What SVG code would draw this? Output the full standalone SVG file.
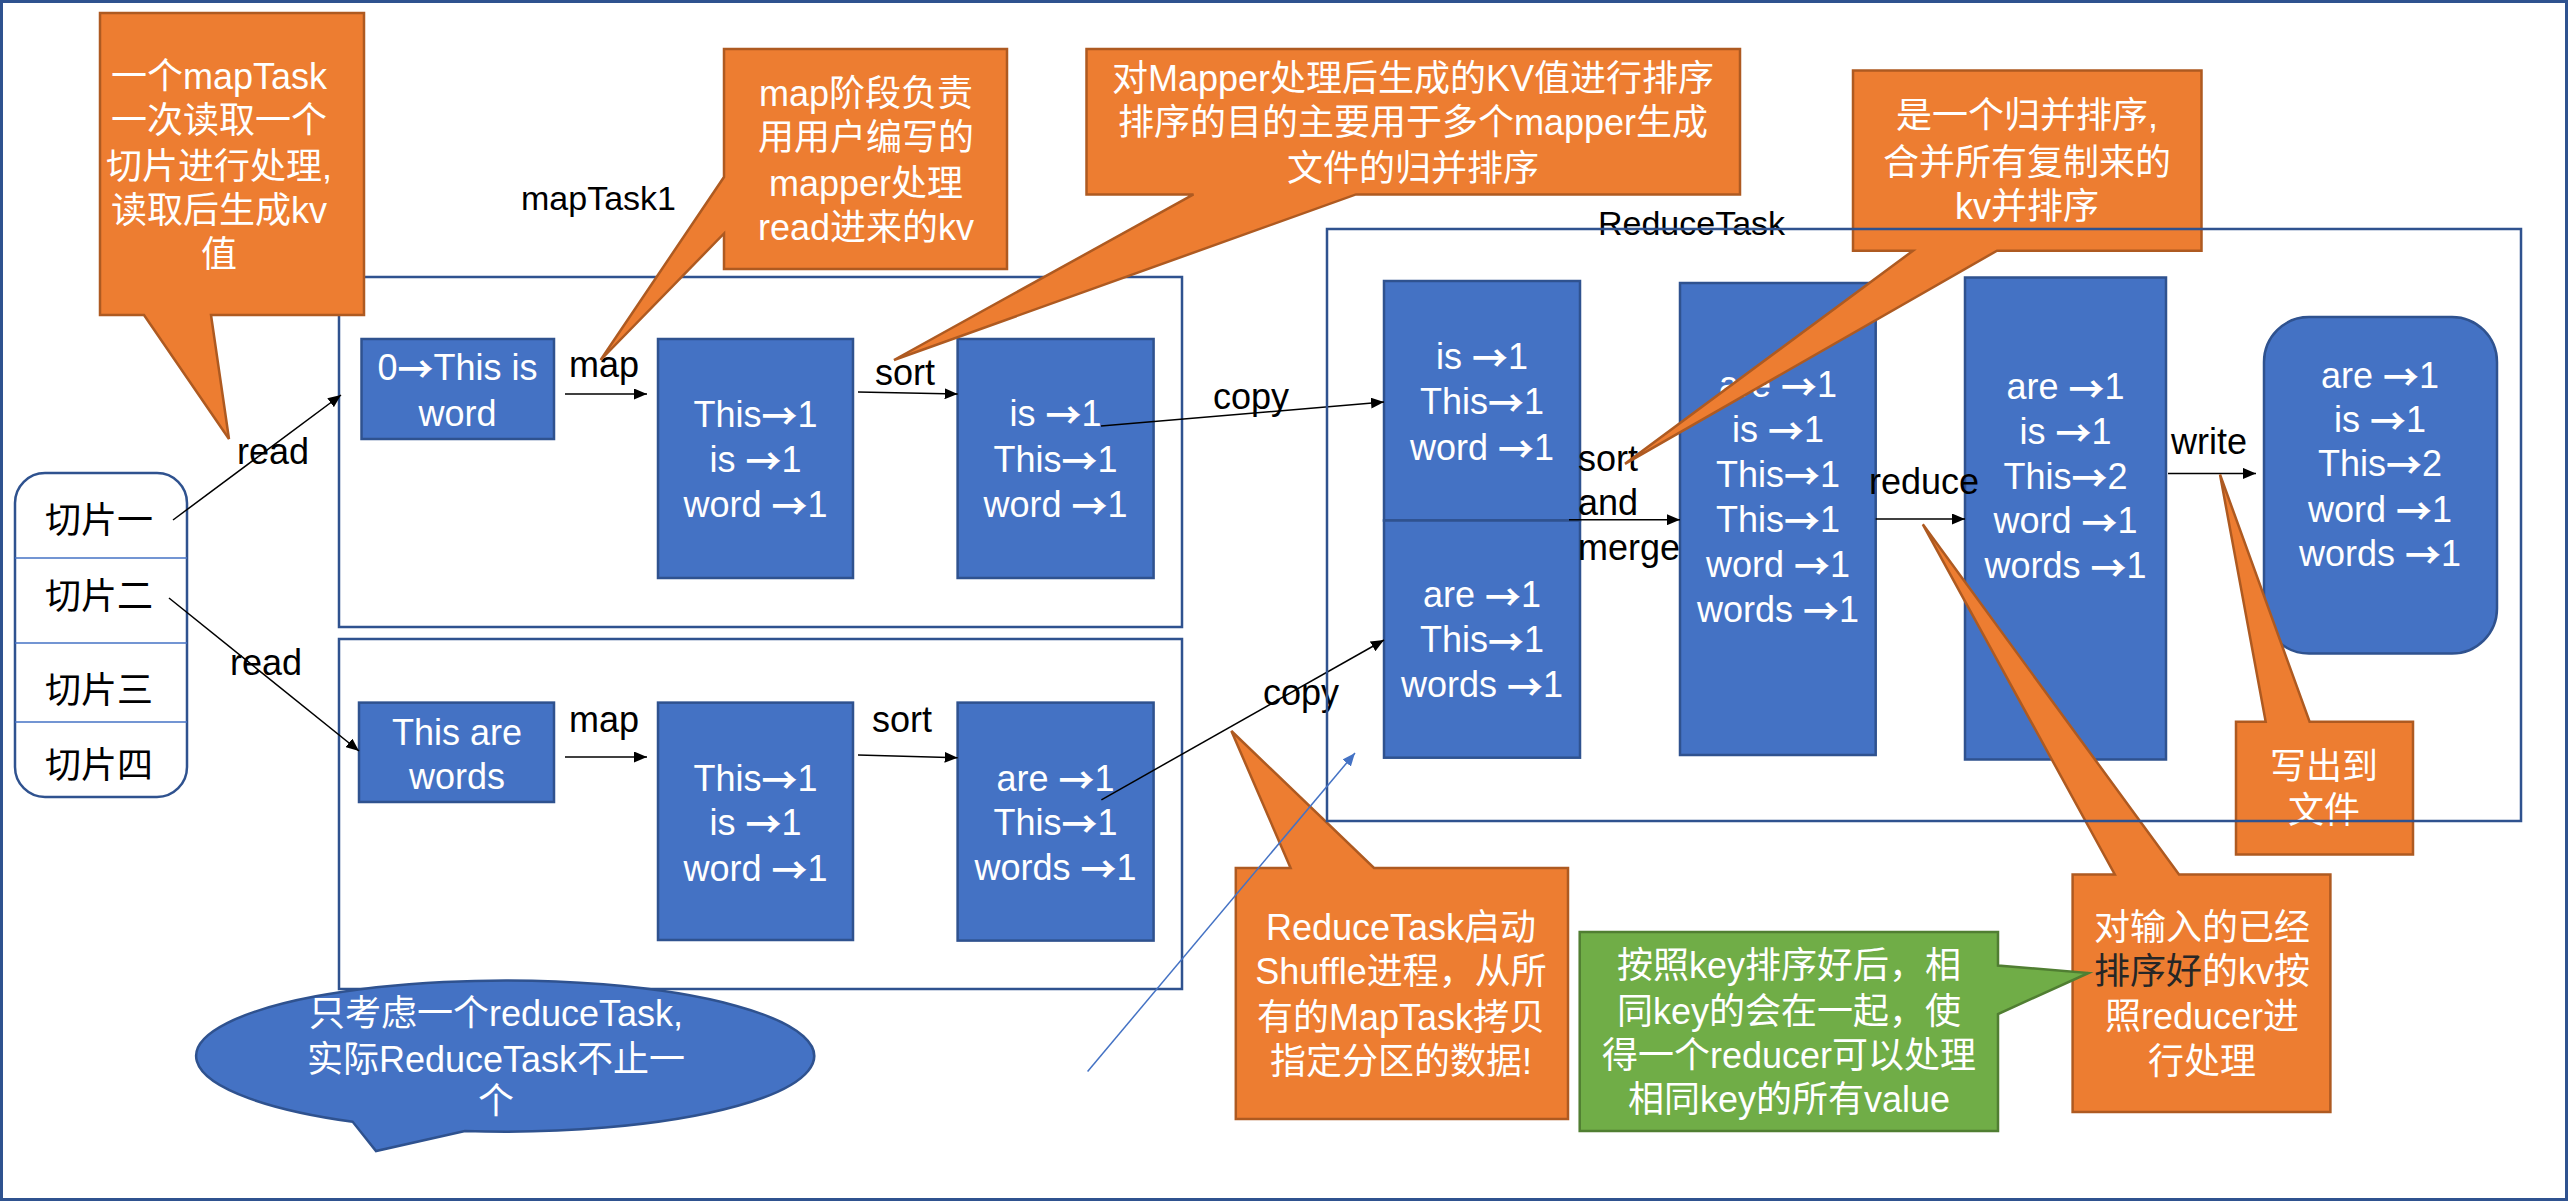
<svg xmlns="http://www.w3.org/2000/svg" width="2568" height="1201" viewBox="0 0 2568 1201">
<style>
.box{fill:#4472C4;stroke:#2F528F;stroke-width:2.5}
.ctr{fill:none;stroke:#2F528F;stroke-width:2.5}
.co{fill:#ED7D31;stroke:#AE5A21;stroke-width:2.5}
.gr{fill:#70AD47;stroke:#507E32;stroke-width:2.5}
text{font-family:"Liberation Sans","Noto Sans CJK SC",sans-serif;font-size:36px}
.a{font-family:"Noto Sans CJK SC","DejaVu Sans",sans-serif;font-weight:bold}
.w{fill:#fff;text-anchor:middle;dominant-baseline:central}
.k{fill:#000}
.kc{fill:#000;text-anchor:middle;dominant-baseline:central}
.ln{stroke:#000;stroke-width:1.5;fill:none;marker-end:url(#ah)}
.bl{stroke:#4472C4;stroke-width:1.5;fill:none;marker-end:url(#ahb)}
.div{stroke:#4472C4;stroke-width:1.5}
</style>
<defs>
<marker id="ah" markerUnits="userSpaceOnUse" markerWidth="13" markerHeight="11" refX="13" refY="5.5" orient="auto"><path d="M0,0 L13,5.5 L0,11 Z" fill="#000"/></marker>
<marker id="ahb" markerUnits="userSpaceOnUse" markerWidth="13" markerHeight="11" refX="13" refY="5.5" orient="auto"><path d="M0,0 L13,5.5 L0,11 Z" fill="#4472C4"/></marker>
</defs>
<rect x="1.5" y="1.5" width="2565" height="1198" fill="#fff" stroke="#2F528F" stroke-width="3"/>

<g id="maptask1-container"><rect class="ctr" x="339" y="277" width="843" height="350"/><text class="k" x="521" y="210" style="font-size:34px">mapTask1</text></g>
<g id="maptask2-container"><rect class="ctr" x="339" y="639" width="843" height="350"/></g>

<g id="slices">
<rect x="15" y="473" width="172" height="324" rx="30" fill="#fff" stroke="#2F528F" stroke-width="2.5"/>
<line class="div" x1="15" y1="558" x2="187" y2="558"/>
<line class="div" x1="15" y1="643" x2="187" y2="643"/>
<line class="div" x1="15" y1="722" x2="187" y2="722"/>
<text class="kc" x="99" y="520">切片一</text>
<text class="kc" x="99" y="596">切片二</text>
<text class="kc" x="99" y="690">切片三</text>
<text class="kc" x="99" y="765">切片四</text>
</g>

<g id="map1-input"><rect class="box" x="361.5" y="339" width="192.5" height="100"/><text class="w" x="457.5" y="367">0<tspan class="a">→</tspan>This is</text><text class="w" x="457.5" y="413">word</text></g>
<g id="map1-mapped"><rect class="box" x="658" y="339" width="195" height="239"/><text class="w" x="755.5" y="414">This<tspan class="a">→</tspan>1</text><text class="w" x="755.5" y="459">is <tspan class="a">→</tspan>1</text><text class="w" x="755.5" y="504">word <tspan class="a">→</tspan>1</text></g>
<g id="map1-sorted"><rect class="box" x="957.6" y="339" width="196" height="239"/><text class="w" x="1055.5" y="413">is <tspan class="a">→</tspan>1</text><text class="w" x="1055.5" y="459">This<tspan class="a">→</tspan>1</text><text class="w" x="1055.5" y="504">word <tspan class="a">→</tspan>1</text></g>
<g id="map2-input"><rect class="box" x="359" y="702.6" width="195" height="99.4"/><text class="w" x="457" y="732">This are</text><text class="w" x="457" y="776">words</text></g>
<g id="map2-mapped"><rect class="box" x="658" y="702.6" width="195" height="237.4"/><text class="w" x="755.5" y="778">This<tspan class="a">→</tspan>1</text><text class="w" x="755.5" y="822">is <tspan class="a">→</tspan>1</text><text class="w" x="755.5" y="868">word <tspan class="a">→</tspan>1</text></g>
<g id="map2-sorted"><rect class="box" x="957.6" y="702.6" width="196" height="238"/><text class="w" x="1055.5" y="778">are <tspan class="a">→</tspan>1</text><text class="w" x="1055.5" y="822">This<tspan class="a">→</tspan>1</text><text class="w" x="1055.5" y="867">words <tspan class="a">→</tspan>1</text></g>

<g id="reduce-copy1"><rect class="box" x="1384" y="281" width="196" height="239.5"/><text class="w" x="1482" y="356">is <tspan class="a">→</tspan>1</text><text class="w" x="1482" y="401">This<tspan class="a">→</tspan>1</text><text class="w" x="1482" y="447">word <tspan class="a">→</tspan>1</text></g>
<g id="reduce-copy2"><rect class="box" x="1384" y="520.5" width="196" height="237.2"/><text class="w" x="1482" y="594.5">are <tspan class="a">→</tspan>1</text><text class="w" x="1482" y="639.5">This<tspan class="a">→</tspan>1</text><text class="w" x="1482" y="684.5">words <tspan class="a">→</tspan>1</text></g>
<g id="merged"><rect class="box" x="1680" y="283" width="195.7" height="472"/><text class="w" x="1778" y="384.6">are <tspan class="a">→</tspan>1</text><text class="w" x="1778" y="429">is <tspan class="a">→</tspan>1</text><text class="w" x="1778" y="474">This<tspan class="a">→</tspan>1</text><text class="w" x="1778" y="519">This<tspan class="a">→</tspan>1</text><text class="w" x="1778" y="564">word <tspan class="a">→</tspan>1</text><text class="w" x="1778" y="609">words <tspan class="a">→</tspan>1</text></g>
<g id="reduced"><rect class="box" x="1965" y="277.5" width="201" height="482"/><text class="w" x="2065.5" y="386.5">are <tspan class="a">→</tspan>1</text><text class="w" x="2065.5" y="431">is <tspan class="a">→</tspan>1</text><text class="w" x="2065.5" y="476">This<tspan class="a">→</tspan>2</text><text class="w" x="2065.5" y="520.5">word <tspan class="a">→</tspan>1</text><text class="w" x="2065.5" y="565.6">words <tspan class="a">→</tspan>1</text></g>
<g id="output"><rect class="box" x="2264" y="317" width="233" height="336.6" rx="45"/><text class="w" x="2380" y="375">are <tspan class="a">→</tspan>1</text><text class="w" x="2380" y="419">is <tspan class="a">→</tspan>1</text><text class="w" x="2380" y="463">This<tspan class="a">→</tspan>2</text><text class="w" x="2380" y="509">word <tspan class="a">→</tspan>1</text><text class="w" x="2380" y="553">words <tspan class="a">→</tspan>1</text></g>

<g id="connectors">
<line class="ln" x1="173" y1="520" x2="341" y2="395"/>
<line class="ln" x1="169" y1="598" x2="359" y2="751"/>
<line class="ln" x1="565" y1="394" x2="647" y2="394"/>
<line class="ln" x1="565" y1="757" x2="647" y2="757"/>
<line class="ln" x1="858" y1="392" x2="957.6" y2="394"/>
<line class="ln" x1="858" y1="755" x2="957.6" y2="757.7"/>
<line class="ln" x1="1101" y1="426" x2="1384" y2="402"/>
<line class="ln" x1="1101.4" y1="799.8" x2="1384" y2="640"/>
<line class="ln" x1="1569" y1="519.7" x2="1680" y2="519.7"/>
<line class="ln" x1="1875.7" y1="519" x2="1965" y2="519"/>
<line class="ln" x1="2168" y1="473.4" x2="2256" y2="473.4"/>
<text class="k" x="237" y="464">read</text>
<text class="k" x="230" y="675">read</text>
<text class="k" x="569" y="377">map</text>
<text class="k" x="569" y="732">map</text>
<text class="k" x="875" y="385">sort</text>
<text class="k" x="872" y="732">sort</text>
<text class="k" x="1213" y="409">copy</text>
<text class="k" x="1263" y="705">copy</text>
<text class="k" x="1578" y="470.5">sort</text>
<text class="k" x="1578" y="515">and</text>
<text class="k" x="1578" y="560">merge</text>
<text class="k" x="1869" y="494">reduce</text>
<text class="k" x="2171" y="453.5">write</text>
</g>

<g id="note-read"><path class="co" d="M100,13 H364 V315 H211 L229,439 L144,315 H100 Z"/>
<text class="w" x="219" y="76.5">一个mapTask</text><text class="w" x="219" y="120.5">一次读取一个</text><text class="w" x="219" y="166.5">切片进行处理,</text><text class="w" x="219" y="210.5">读取后生成kv</text><text class="w" x="219" y="254.5">值</text></g>
<g id="note-map"><path class="co" d="M724,49 H1007 V269 H724 V233.5 L600.6,360 L724,177 Z"/>
<text class="w" x="866" y="93.8">map阶段负责</text><text class="w" x="866" y="137.8">用用户编写的</text><text class="w" x="866" y="183.7">mapper处理</text><text class="w" x="866" y="227.7">read进来的kv</text></g>
<g id="note-sort"><path class="co" d="M1086.5,49 H1740 V194.4 H1356 L894,360 L1193.5,194.4 H1086.5 Z"/>
<text class="w" x="1413" y="78.5">对Mapper处理后生成的KV值进行排序</text><text class="w" x="1413" y="122.5">排序的目的主要用于多个mapper生成</text><text class="w" x="1413" y="168.4">文件的归并排序</text></g>
<g id="note-merge"><path class="co" d="M1853,70.4 H2201.5 V250.7 H1997 L1625,463.8 L1913,250.7 H1853 Z"/>
<text class="w" x="2027" y="115">是一个归并排序,</text><text class="w" x="2027" y="162.6">合并所有复制来的</text><text class="w" x="2027" y="206.7">kv并排序</text></g>
<g id="note-shuffle"><path class="co" d="M1235.8,868 H1290.6 L1231.4,731 L1374,868 H1568 V1119 H1235.8 Z"/>
<text class="w" x="1401" y="927">ReduceTask启动</text><text class="w" x="1401" y="971">Shuffle进程，从所</text><text class="w" x="1401" y="1017">有的MapTask拷贝</text><text class="w" x="1401" y="1061">指定分区的数据!</text></g>
<g id="note-write"><path class="co" d="M2236,721.7 H2265.7 L2220,474.5 L2309.6,721.7 H2413 V854.5 H2236 Z"/>
<text class="w" x="2324" y="766.5">写出到</text><text class="w" x="2324" y="810.5">文件</text></g>
<g id="note-reduce"><path class="co" d="M2072.6,874.4 H2114.8 L1922.8,524.3 L2179,874.4 H2330.4 V1112 H2072.6 Z"/>
<text class="w" x="2202" y="927">对输入的已经</text><text class="w" x="2202" y="971"><tspan fill="#262626">排序好</tspan>的kv按</text><text class="w" x="2202" y="1016">照reducer进</text><text class="w" x="2202" y="1061">行处理</text></g>
<g id="note-group"><path class="gr" d="M1579.7,932 H1998 V965.5 L2088.5,973 L1998,1014 V1131 H1579.7 Z"/>
<text class="w" x="1789" y="965.5">按照key排序好后，相</text><text class="w" x="1789" y="1011">同key的会在一起，使</text><text class="w" x="1789" y="1055">得一个reducer可以处理</text><text class="w" x="1789" y="1099">相同key的所有value</text></g>
<g id="note-single"><path class="box" d="M465,1131 L376,1151 L352.7,1121.8 A309,75.6 0 1 1 465,1131 Z"/>
<text class="w" x="496" y="1013">只考虑一个reduceTask,</text><text class="w" x="496" y="1059">实际ReduceTask不止一</text><text class="w" x="496" y="1101">个</text></g>

<g id="reducetask-container"><text class="k" x="1598" y="235" style="font-size:34px">ReduceTask</text><rect class="ctr" x="1327" y="229" width="1194" height="592"/></g>
<g id="shuffle-pointer"><line class="bl" x1="1087.6" y1="1071.5" x2="1355" y2="753"/></g>
</svg>
